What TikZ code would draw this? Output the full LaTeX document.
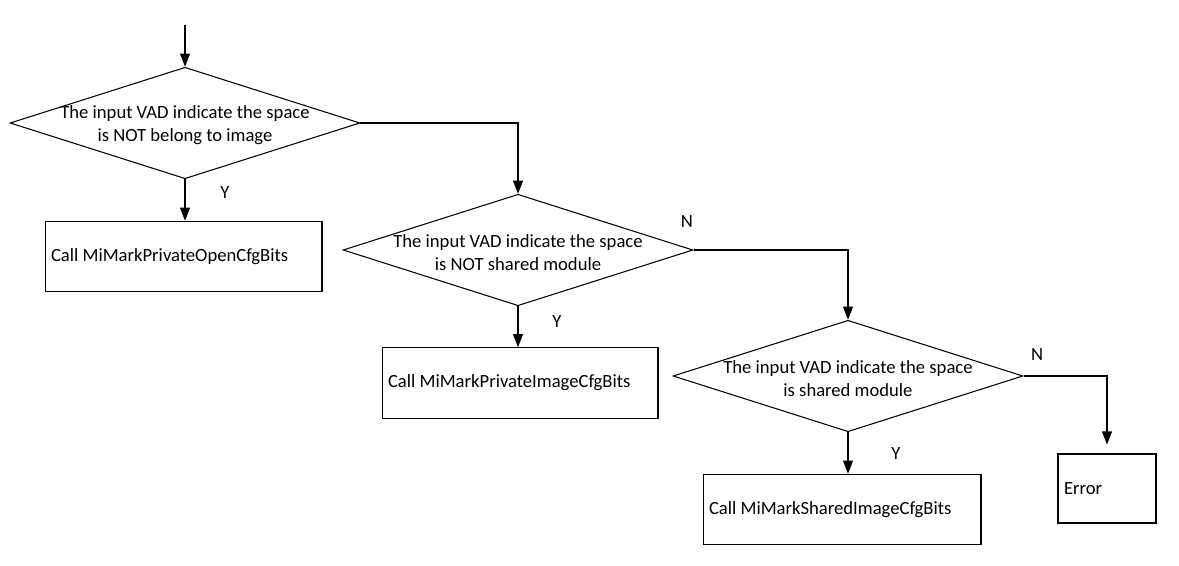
\documentclass[tikz,border=0pt]{standalone}
\usepackage{fontspec}
\setmainfont{Carlito}
\usetikzlibrary{shapes.geometric,arrows.meta}
\begin{document}
\begin{tikzpicture}[x=0.02cm, y=-0.02cm, line width=0.6pt,
    font=\fontsize{10.6}{13}\selectfont,
    >={Triangle[length=7.4pt,width=5.6pt]},
    decision/.style={diamond, draw, minimum width=7cm, minimum height=2.23cm, inner sep=0pt},
    procbox/.style={draw, minimum height=1.41cm, inner xsep=0.12cm, align=flush left}]
  \useasboundingbox (0,0) rectangle (1179,565);
  % decisions
  \foreach \n/\x/\y/\t in {d1/185/123/{The input VAD indicate the space\\ is NOT belong to image},
      d2/518/250/{The input VAD indicate the space\\ is NOT shared module},
      d3/848/376/{The input VAD indicate the space\\ is shared module}} {
    \node[decision] (\n) at (\x,\y) {};
    \node[align=flush center] (\n txt) at ([yshift=-0.05cm]\n) {\t};
  }
  % actions
  \node[procbox, text width=5.30cm] (b1) at (183.5,256.5) {Call MiMarkPrivateOpenCfgBits};
  \node[procbox, text width=5.28cm] (b2) at (520,383) {Call MiMarkPrivateImageCfgBits};
  \node[procbox, text width=5.32cm] (b3) at (842,509.5) {Call MiMarkSharedImageCfgBits};
  \node[procbox, text width=1.72cm, minimum height=1.38cm] (err) at (1107,488.5) {Error};
  % flow
  \coordinate (start) at (185,25);
  \draw[->] (start) -- (d1.north);
  \draw[->] (d1.south) -- (d1.south |- b1.north);
  \draw[->] (d1.east) -| (d2.north);
  \draw[->] (d2.south) -- (d2.south |- b2.north);
  \draw[->] (d2.east) -| (d3.north);
  \draw[->] (d3.south) -- (d3.south |- b3.north);
  \draw[->, shorten >=0.18cm] (d3.east) -| (err.north);
  % branch labels
  \node (y1) at (225,193) {Y};
  \node (y2) at (557,322) {Y};
  \node (y3) at (896,454) {Y};
  \node (n2) at (687,222) {N};
  \node (n3) at (1037,355) {N};
\end{tikzpicture}
\end{document}
